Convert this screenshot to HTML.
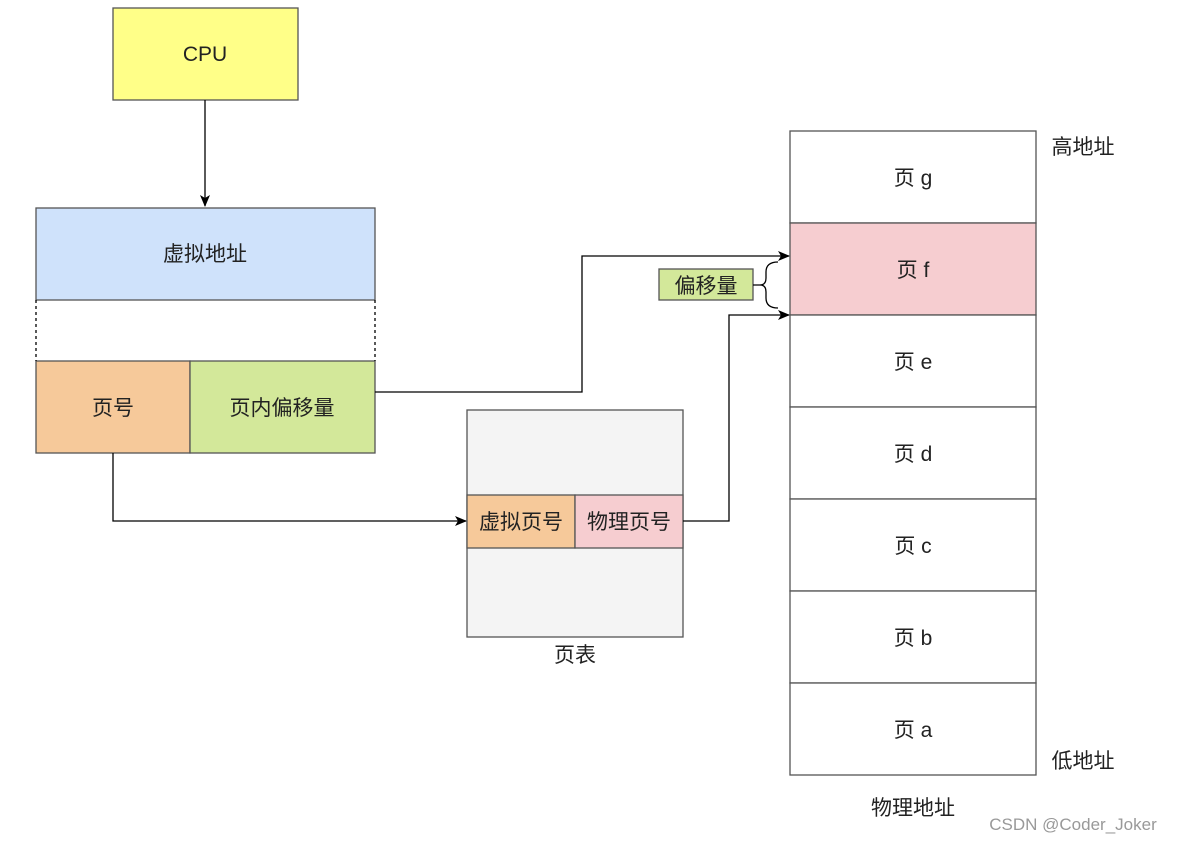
<!DOCTYPE html>
<html><head><meta charset="utf-8"><style>
body{margin:0;background:#fff}
svg text{font-family:"Liberation Sans","Noto Sans CJK SC",sans-serif;font-size:21px;fill:#222}
</style></head><body>
<svg width="1178" height="842" viewBox="0 0 1178 842" xmlns="http://www.w3.org/2000/svg">
<defs><marker id="a" markerWidth="12" markerHeight="10" refX="11" refY="5" orient="auto" markerUnits="userSpaceOnUse"><path d="M0,0 L12,5 L0,10 L3,5 Z" fill="#000"/></marker></defs>
<g stroke="#555" stroke-width="1.3">
<rect x="113" y="8" width="185" height="92" fill="#ffff88"/>
<rect x="36" y="208" width="339" height="92" fill="#cfe2fb"/>
<rect x="36" y="361" width="154" height="92" fill="#f6c99a"/>
<rect x="190" y="361" width="185" height="92" fill="#d3e89a"/>
<rect x="467" y="410" width="216" height="227" fill="#f4f4f4"/>
<rect x="467" y="495" width="108" height="53" fill="#f6c99a"/>
<rect x="575" y="495" width="108" height="53" fill="#f6cdd0"/>
<rect x="790" y="131" width="246" height="92" fill="#fff"/>
<rect x="790" y="223" width="246" height="92" fill="#f6cdd0"/>
<rect x="790" y="315" width="246" height="92" fill="#fff"/>
<rect x="790" y="407" width="246" height="92" fill="#fff"/>
<rect x="790" y="499" width="246" height="92" fill="#fff"/>
<rect x="790" y="591" width="246" height="92" fill="#fff"/>
<rect x="790" y="683" width="246" height="92" fill="#fff"/>
<rect x="659" y="269" width="94" height="31" fill="#d3e89a"/>
</g>
<g stroke="#000" stroke-width="1.3" fill="none">
<line x1="36" y1="300" x2="36" y2="361" stroke-dasharray="3,3"/>
<line x1="375" y1="300" x2="375" y2="361" stroke-dasharray="3,3"/>
<path d="M205,100 V206" marker-end="url(#a)"/>
<path d="M375,392 H582 V256 H789" marker-end="url(#a)"/>
<path d="M113,453 V521 H466" marker-end="url(#a)"/>
<path d="M683,521 H729 V315 H789" marker-end="url(#a)"/>
<path d="M753,285 H763 M778,262 Q766,262 766,272 V278 Q766,285 760,285 Q766,285 766,292 V298 Q766,308 778,308"/>
</g>
<g text-anchor="middle">
<text x="205" y="61">CPU</text>
<text x="205" y="261">虚拟地址</text>
<text x="113" y="415">页号</text>
<text x="282" y="415">页内偏移量</text>
<text x="521" y="529">虚拟页号</text>
<text x="629" y="529">物理页号</text>
<text x="575" y="662">页表</text>
<text x="706" y="293">偏移量</text>
<text x="913" y="185">页 g</text>
<text x="913" y="277">页 f</text>
<text x="913" y="369">页 e</text>
<text x="913" y="461">页 d</text>
<text x="913" y="553">页 c</text>
<text x="913" y="645">页 b</text>
<text x="913" y="737">页 a</text>
<text x="913" y="815">物理地址</text>
<text x="1083" y="154">高地址</text>
<text x="1083" y="768">低地址</text>
<text x="1073" y="830" style="font-size:17px;fill:#999">CSDN @Coder_Joker</text>
</g>
</svg>
</body></html>
